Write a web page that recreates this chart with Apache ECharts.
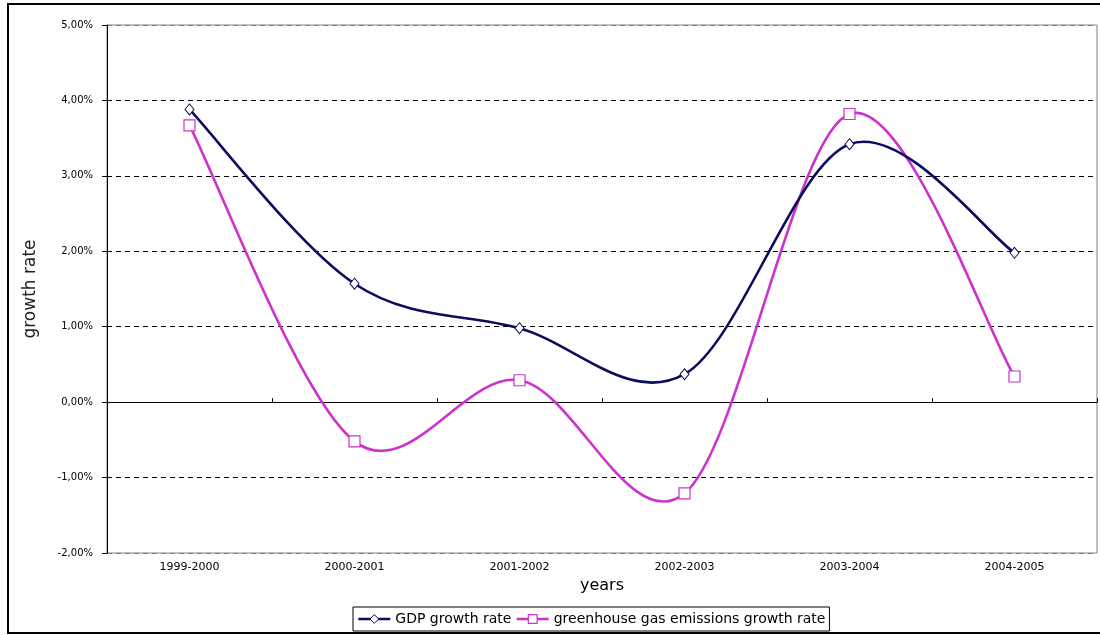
<!DOCTYPE html>
<html>
<head>
<meta charset="utf-8">
<script src="https://cdn.jsdelivr.net/npm/echarts@6/dist/echarts.min.js"></script>
<style>
html,body{margin:0;padding:0;background:#fff;}
#chart{width:1100px;height:635px;}
</style>
</head>
<body>
<div id="chart"></div>
<script>
var categories = ['1999-2000','2000-2001','2001-2002','2002-2003','2003-2004','2004-2005'];
var gdpGrowth = [3.88, 1.57, 0.98, 0.37, 3.42, 1.98];
var ghgGrowth = [3.67, -0.52, 0.29, -1.21, 3.82, 0.34];
var yMin = -2, yMax = 5, yStep = 1;

var GDP_COLOR = '#0c0c5e', GHG_COLOR = '#cc33cc';
var LINE_W = 2.6;
var FONT = 'DejaVu Sans';

// Excel-like smoothed curve: Catmull-Rom Bezier segments through the data points,
// positioned with the chart's own axes (api.coord).
function curveSeries(name, values, color, z) {
  return {
    name: name,
    type: 'custom',
    coordinateSystem: 'cartesian2d',
    data: values.map(function (v, i) { return [i, v]; }),
    encode: {x: 0, y: 1},
    silent: true,
    z: z,
    renderItem: function (params, api) {
      var n = values.length, i = params.dataIndex;
      if (i >= n - 1) return null;
      var P = function (k) {
        k = Math.max(0, Math.min(n - 1, k));
        return api.coord([k, values[k]]);
      };
      var p0 = P(i - 1), p1 = P(i), p2 = P(i + 1), p3 = P(i + 2);
      return {
        type: 'bezierCurve',
        shape: {
          x1: p1[0], y1: p1[1], x2: p2[0], y2: p2[1],
          cpx1: p1[0] + (p2[0] - p0[0]) / 6, cpy1: p1[1] + (p2[1] - p0[1]) / 6,
          cpx2: p2[0] - (p3[0] - p1[0]) / 6, cpy2: p2[1] - (p3[1] - p1[1]) / 6
        },
        style: {stroke: color, lineWidth: LINE_W, fill: null, lineCap: 'round'}
      };
    }
  };
}

var chart = echarts.init(document.getElementById('chart'), null, {renderer:'canvas'});
chart.setOption({
  animation: false,
  backgroundColor: '#fff',
  graphic: [{
    type: 'rect', silent: true, z: -1,
    shape: {x: 8, y: 4, width: 1100, height: 629},
    style: {fill: 'none', stroke: '#000', lineWidth: 2}
  }],
  grid: {
    left: 107, right: 3, top: 25, bottom: 82,
    containLabel: false, outerBoundsMode: 'none',
    show: true, borderColor: '#808080', borderWidth: 1, backgroundColor: '#fff'
  },
  legend: {
    left: 353, top: 607,
    padding: [5, 4, 5, 4],
    itemWidth: 32, itemHeight: 11, itemGap: 4,
    borderColor: '#000', borderWidth: 1,
    textStyle: {fontFamily: FONT, fontSize: 14, color: '#000'},
    data: [
      {name: 'GDP growth rate',
       itemStyle: {color: '#fff', borderColor: GDP_COLOR, borderWidth: 1},
       lineStyle: {color: GDP_COLOR, width: LINE_W, opacity: 1}},
      {name: 'greenhouse gas emissions growth rate',
       itemStyle: {color: '#fff', borderColor: GHG_COLOR, borderWidth: 1.2},
       lineStyle: {color: GHG_COLOR, width: LINE_W, opacity: 1}}
    ]
  },
  xAxis: {
    type: 'category',
    data: categories,
    boundaryGap: true,
    name: 'years',
    nameLocation: 'middle',
    nameGap: 23,
    nameTextStyle: {fontFamily: FONT, fontSize: 16, color: '#000'},
    axisLine: {onZero: true, lineStyle: {color: '#000', width: 1}},
    axisTick: {show: true, inside: true, length: 4, lineStyle: {color: '#000'}},
    axisLabel: {fontFamily: FONT, fontSize: 11, color: '#000', margin: 9},
    splitLine: {show: false}
  },
  yAxis: {
    type: 'value',
    min: yMin, max: yMax, interval: yStep,
    name: 'growth rate',
    nameLocation: 'middle',
    nameRotate: 90,
    nameGap: 68,
    nameTextStyle: {fontFamily: FONT, fontSize: 17, color: '#222'},
    axisLine: {show: true, lineStyle: {color: '#000', width: 1}},
    axisTick: {show: true, inside: false, length: 5, lineStyle: {color: '#000'}},
    axisLabel: {
      fontFamily: FONT, fontSize: 10, color: '#000', margin: 14,
      formatter: function (v) { return v.toFixed(2).replace('.', ',') + '%'; }
    },
    splitLine: {
      show: true,
      lineStyle: {
        color: ['#808080', '#000', '#000', '#000', '#000', '#000', '#000', '#808080'],
        type: [5, 4], width: 1
      }
    }
  },
  series: [
    curveSeries('GDP curve', gdpGrowth, GDP_COLOR, 3),
    curveSeries('GHG curve', ghgGrowth, GHG_COLOR, 2),
    {
      name: 'GDP growth rate',
      type: 'line',
      data: gdpGrowth,
      symbol: 'diamond',
      symbolSize: [9, 11],
      showAllSymbol: true,
      lineStyle: {color: GDP_COLOR, width: 0, opacity: 0},
      itemStyle: {color: '#fff', borderColor: GDP_COLOR, borderWidth: 1},
      z: 5
    }, {
      name: 'greenhouse gas emissions growth rate',
      type: 'line',
      data: ghgGrowth,
      symbol: 'rect',
      symbolSize: 11,
      showAllSymbol: true,
      lineStyle: {color: GHG_COLOR, width: 0, opacity: 0},
      itemStyle: {color: '#fff', borderColor: GHG_COLOR, borderWidth: 1.2},
      z: 4
    }
  ]
});
</script>
</body>
</html>
